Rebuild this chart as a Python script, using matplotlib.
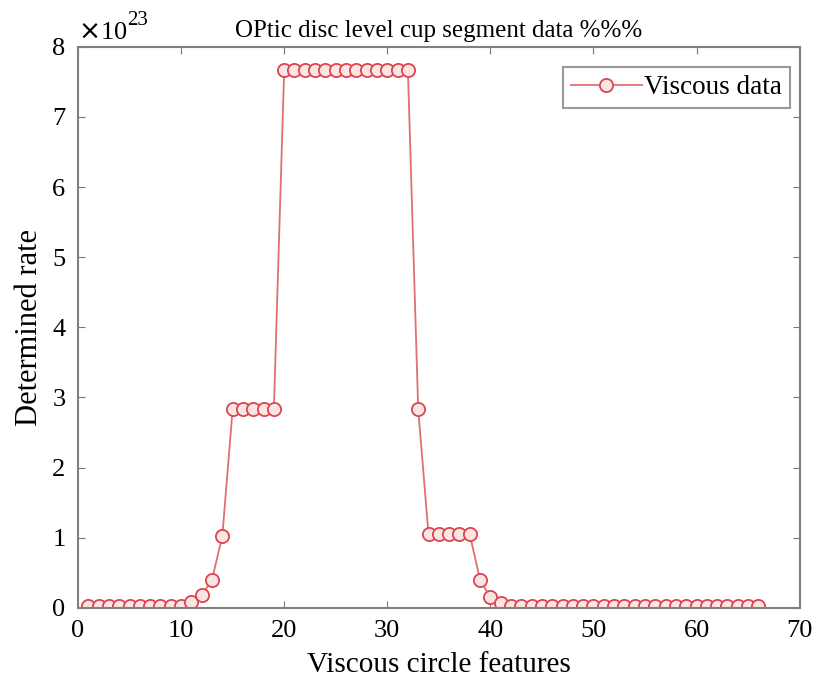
import numpy as np
import matplotlib.pyplot as plt

plt.rcParams['font.family'] = ['Liberation Serif', 'DejaVu Serif']

x = np.arange(1, 67)
y_low = [0.03] * 10
y_rise = [0.08, 0.18, 0.40, 1.03]
y_step1 = [2.83] * 5
y_top = [7.67] * 13
y_fall = [2.83]
y_step2 = [1.05] * 5
y_tail = [0.40, 0.15, 0.07]
y_flat = [0.03] * 25
y = np.array(y_low + y_rise + y_step1 + y_top + y_fall + y_step2 + y_tail + y_flat) * 1e23

fig = plt.figure(figsize=(8.21, 6.77), dpi=100)
ax = fig.add_axes([0.095, 0.102, 0.879, 0.829])

ax.plot(x, y, color='#e07070', lw=1.3, marker='o', markersize=9.5,
        markerfacecolor='#fbe4e4', markeredgecolor='#d9464f', markeredgewidth=1.3,
        label='Viscous data')

ax.set_xlim(0, 70)
ax.set_ylim(0, 8e23)
ax.set_xticks(np.arange(0, 71, 10))
ax.set_yticks(np.arange(0, 9) * 1e23)
ax.set_yticklabels([str(i) for i in range(9)])
ax.tick_params(direction='in', top=True, right=True, labelsize=19, color='#777777',
               length=5)
ax.tick_params(axis='x', pad=9)
ax.tick_params(axis='y', pad=9)
for s in ax.spines.values():
    s.set_color('#808080')
    s.set_linewidth(1.5)

ax.text(0.0, 1.005, r'$\times$10', transform=ax.transAxes, fontsize=19, ha='left', va='bottom')
ax.text(0.068, 1.03, '23', transform=ax.transAxes, fontsize=15, ha='left', va='bottom')

ax.set_title('OPtic disc level cup segment data %%%', fontsize=18, pad=7)
ax.set_xlabel('Viscous circle features', fontsize=21, labelpad=7)
ax.set_ylabel('Determined rate', fontsize=22, labelpad=6)

leg = ax.legend(loc='upper right', bbox_to_anchor=(0.987, 0.964), fontsize=19.5,
                fancybox=False, handlelength=2.6, borderpad=0.3, handletextpad=0.1,
                borderaxespad=0)
leg.get_frame().set_edgecolor('#808080')
leg.get_frame().set_linewidth(1.5)

fig.savefig('out.png', dpi=100)
